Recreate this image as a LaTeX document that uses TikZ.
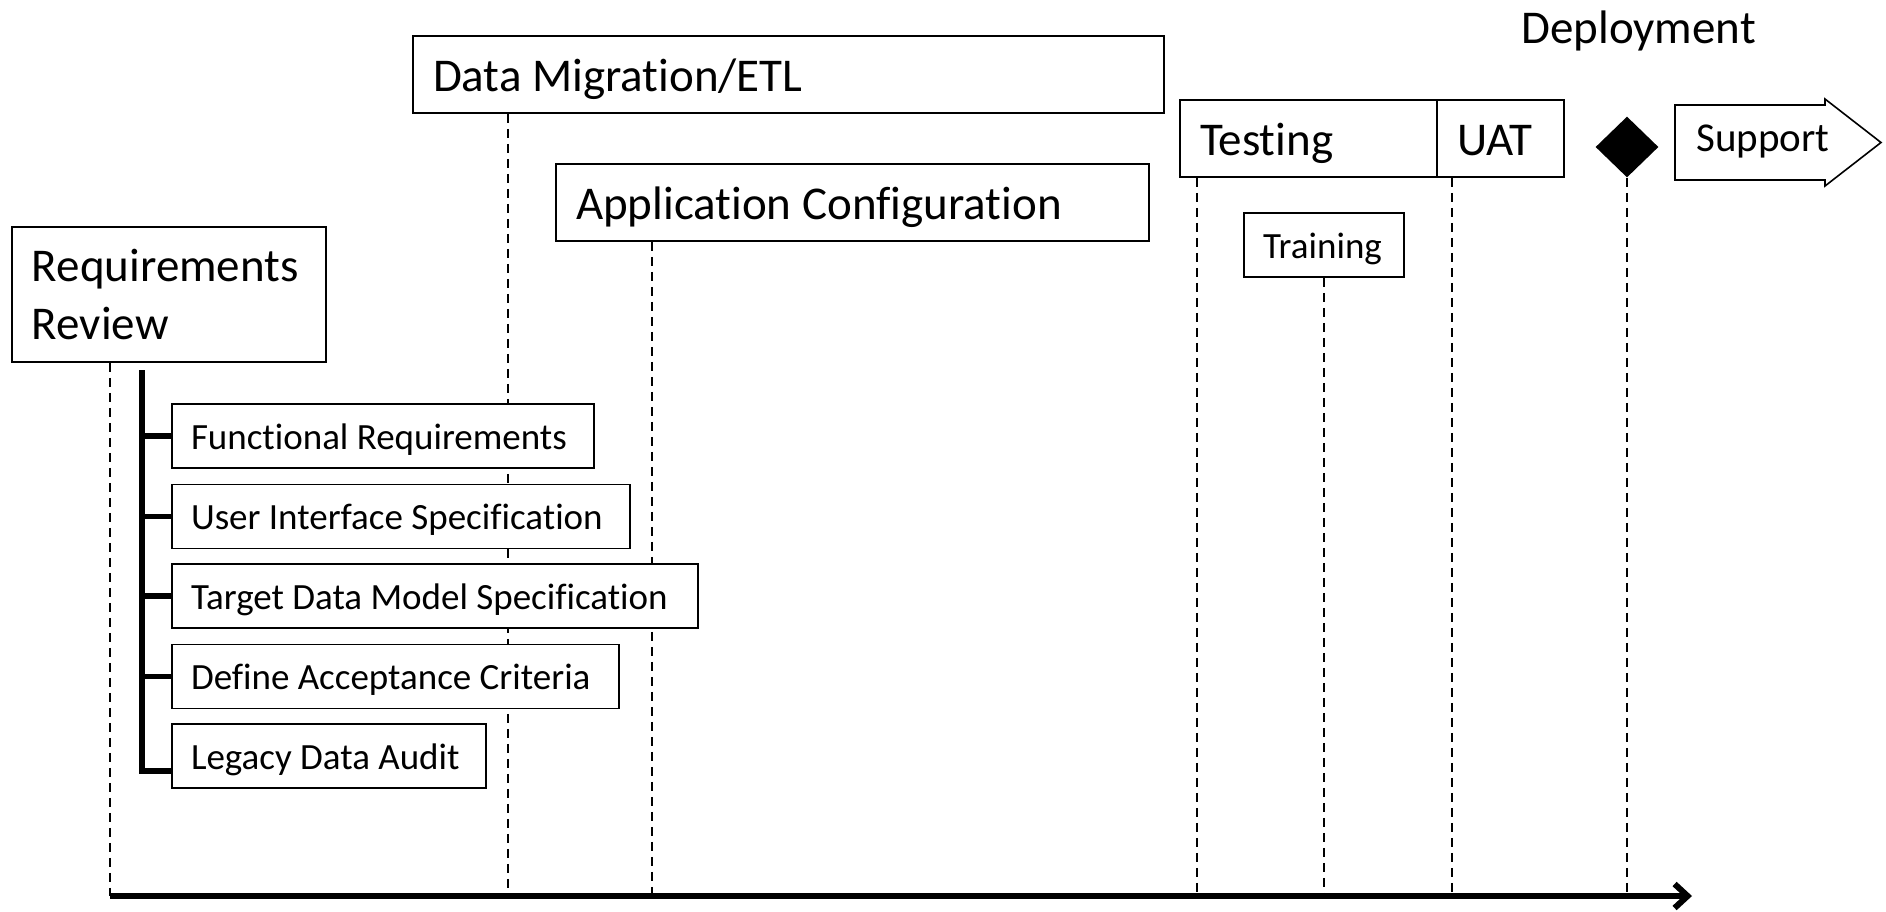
\documentclass[tikz,border=0pt]{standalone}
\usepackage{fontspec}
\setmainfont{Carlito}[Ligatures=NoCommon]
\usetikzlibrary{shapes.geometric,arrows.meta}
\newcommand{\bigfnt}{\fontsize{23.5}{29}\selectfont}
\newcommand{\smallfnt}{\fontsize{18.5}{22}\selectfont}
\newcommand{\supfnt}{\fontsize{20.5}{24}\selectfont}
\newcommand{\lbox}[2]{\makebox[#1][l]{#2}}
\begin{document}
\begin{tikzpicture}[x=0.5pt,y=-0.5pt,
 phase/.style={draw, fill=white, line width=0.8pt, font=\bigfnt, inner xsep=10pt, inner ysep=0pt, minimum height=38.5pt, text height=17.3pt, text depth=0.7pt},
 task/.style={draw, fill=white, line width=0.8pt, font=\smallfnt, inner xsep=9.5pt, inner ysep=0pt, minimum height=32pt, text height=13.8pt, text depth=0.6pt},
 guide/.style={line width=0.6pt, dash pattern=on 4.5pt off 3pt},
 bracketline/.style={line width=2.7pt, line join=miter},
 axisline/.style={line width=3pt, -{Straight Barb[length=6.5pt,width=12pt]}}]
\useasboundingbox (0,0) rectangle (1886,911);

% axis coordinates
\coordinate (t1) at (110,896);
\coordinate (t2) at (508,896);
\coordinate (t3) at (652,896);
\coordinate (t4) at (1197,896);
\coordinate (t5) at (1324,896);
\coordinate (t6) at (1452,896);
\coordinate (t7) at (1627,896);
\coordinate (tend) at (1692,896);

% phase boxes
\node[draw, fill=white, line width=0.8pt, font=\bigfnt, inner xsep=10pt, inner ysep=0pt, align=left, text width=137pt, minimum height=67.5pt] (req) at (169,294.5) {Requirements\\Review};
\node[phase] (dm) at (788.5,74.5) {\lbox{355.5pt}{Data Migration/ETL}};
\node[phase] (ac) at (852.5,202.5) {\lbox{276.5pt}{Application Configuration}};
\node[phase] (test) at (1308.5,138.5) {\lbox{108.5pt}{Testing}};
\node[phase] (uat) at (1500.5,138.5) {\lbox{43.5pt}{UAT}};
\node[task] (train) at (1324,245) {\lbox{61pt}{Training}};
\node[diamond, fill=black, minimum width=31.5pt, minimum height=30.5pt, inner sep=0pt] (dep) at (1627,147) {};
\node[font=\bigfnt, anchor=west, inner sep=0pt] (deplabel) at (1521,31) {Deployment};

% support arrow
\draw[line width=0.8pt, line join=miter, fill=white] (1675,105) -- (1825,105) -- (1825,99) -- (1881,142.5) -- (1825,186) -- (1825,180) -- (1675,180) -- cycle;
\node[font=\supfnt, anchor=west, inner sep=0pt, text height=13.3pt, text depth=5.1pt] (sup) at (1696,143.5) {Support};

% guide lines
\draw[guide] (req.south -| t1) -- (t1);
\draw[guide] (dm.south -| t2) -- (t2);
\draw[guide] (ac.south -| t3) -- (t3);
\draw[guide] (test.south -| t4) -- (t4);
\draw[guide] (train.south -| t5) -- (t5);
\draw[guide] (uat.south -| t6) -- (t6);
\draw[guide] (dep.south) -- (t7);

% task boxes
\node[task] (fr) at (383,436) {\lbox{192pt}{Functional Requirements}};
\node[task] (ui) at (401,516.5) {\lbox{210pt}{User Interface Specification}};
\node[task] (td) at (435,596) {\lbox{244pt}{Target Data Model Specification}};
\node[task] (da) at (395.5,676.5) {\lbox{204.5pt}{Define Acceptance Criteria}};
\node[task] (ld) at (329,756) {\lbox{138pt}{Legacy Data Audit}};

% bracket
\coordinate (bktop) at (142,370);
\coordinate (bkbot) at (142,771);
\draw[bracketline] (bktop) -- (bkbot) -- (bkbot -| ld.west);
\draw[bracketline] (fr.west -| bktop) -- (fr.west);
\draw[bracketline] (ui.west -| bktop) -- (ui.west);
\draw[bracketline] (td.west -| bktop) -- (td.west);
\draw[bracketline] (da.west -| bktop) -- (da.west);

% axis
\draw[axisline] (t1) -- (tend);
\end{tikzpicture}
\end{document}
